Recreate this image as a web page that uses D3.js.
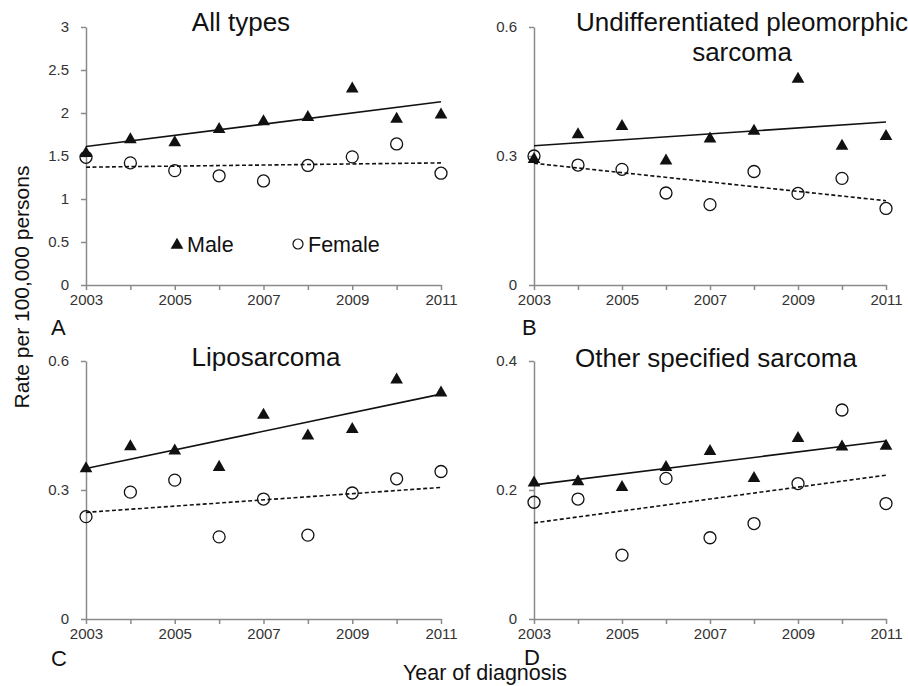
<!DOCTYPE html>
<meta charset="utf-8">
<title>Sarcoma incidence by sex</title>
<script src="https://d3js.org/d3.v7.min.js"></script>
<style>
    body { margin: 0; background: #fff; }
    svg { display: block; font-family: "Liberation Sans", Arial, sans-serif; }
    .tick text { fill: #333; font-size: 15px; }
    .domain, .tick line { stroke: #8a8a8a; stroke-width: 1.5px; }
</style>
<body>
<script>
    // Years of diagnosis and labelled ticks
    const years      = [2003, 2004, 2005, 2006, 2007, 2008, 2009, 2010, 2011];
    const yearLabels = [2003, 2005, 2007, 2009, 2011];

    // Rates per 100,000 persons
    const maleAll     = [1.53, 1.69, 1.655, 1.81, 1.90, 1.95, 2.28, 1.93, 1.98];
    const femaleAll   = [1.485, 1.42, 1.33, 1.27, 1.21, 1.39, 1.49, 1.64, 1.30];
    const maleUPS     = [0.292, 0.350, 0.369, 0.289, 0.340, 0.358, 0.479, 0.323, 0.346];
    const femaleUPS   = [0.300, 0.279, 0.269, 0.214, 0.187, 0.264, 0.213, 0.248, 0.178];
    const maleLipo    = [0.350, 0.401, 0.391, 0.353, 0.474, 0.426, 0.441, 0.556, 0.526];
    const femaleLipo  = [0.238, 0.295, 0.323, 0.191, 0.279, 0.195, 0.293, 0.326, 0.343];
    const maleOther   = [0.211, 0.213, 0.204, 0.235, 0.260, 0.218, 0.280, 0.267, 0.268];
    const femaleOther = [0.181, 0.186, 0.099, 0.218, 0.126, 0.148, 0.210, 0.324, 0.179];

    // Trend lines: value at 2003 and at 2011
    const maleAllTrend     = [1.61, 2.13];
    const femaleAllTrend   = [1.37, 1.42];
    const maleUPSTrend     = [0.324, 0.379];
    const femaleUPSTrend   = [0.283, 0.196];
    const maleLipoTrend    = [0.350, 0.523];
    const femaleLipoTrend  = [0.248, 0.306];
    const maleOtherTrend   = [0.208, 0.276];
    const femaleOtherTrend = [0.149, 0.223];

    // Y ticks for each panel
    const ticksAll   = [0, 0.5, 1, 1.5, 2, 2.5, 3];
    const ticksUPS   = [0, 0.3, 0.6];
    const ticksLipo  = [0, 0.3, 0.6];
    const ticksOther = [0, 0.2, 0.4];

    const seriesNames = ["Male", "Female"];

    // panel layout (pixel frame of each plot area)
    const panels = [
        { letter: "A", title: ["All types"], male: maleAll, female: femaleAll,
          mTrend: maleAllTrend, fTrend: femaleAllTrend, ticks: ticksAll,
          x0: 86, x1: 441, y0: 285, y1: 27, titleX: 241, titleY: 31, letterX: 51, letterY: 335, legend: true },
        { letter: "B", title: ["Undifferentiated pleomorphic", "sarcoma"], male: maleUPS, female: femaleUPS,
          mTrend: maleUPSTrend, fTrend: femaleUPSTrend, ticks: ticksUPS,
          x0: 534, x1: 886, y0: 285, y1: 27, titleX: 742, titleY: 31, letterX: 522, letterY: 335 },
        { letter: "C", title: ["Liposarcoma"], male: maleLipo, female: femaleLipo,
          mTrend: maleLipoTrend, fTrend: femaleLipoTrend, ticks: ticksLipo,
          x0: 86, x1: 441, y0: 619, y1: 361, titleX: 266, titleY: 366, letterX: 51, letterY: 666 },
        { letter: "D", title: ["Other specified sarcoma"], male: maleOther, female: femaleOther,
          mTrend: maleOtherTrend, fTrend: femaleOtherTrend, ticks: ticksOther,
          x0: 534, x1: 886, y0: 619, y1: 361, titleX: 716, titleY: 367, letterX: 524, letterY: 665 }
    ];

    const width  = 908;
    const height = 686;

    const svg = d3.select("body")
                  .append("svg")
                  .attr("width", width)
                  .attr("height", height);

    const triangle = d3.symbol().type(d3.symbolTriangle).size(70);

    panels.forEach(p => {
        const xScale = d3.scaleLinear()
                         .domain([years[0], years[years.length - 1]])
                         .range([p.x0, p.x1]);
        const yScale = d3.scaleLinear()
                         .domain([0, d3.max(p.ticks)])
                         .range([p.y0, p.y1]);

        const g = svg.append("g");

        // axes
        const xAxis = d3.axisBottom(xScale)
                        .tickValues(years)
                        .tickSize(5)
                        .tickPadding(4)
                        .tickSizeOuter(0)
                        .tickFormat(d => yearLabels.includes(d) ? d : "");
        g.append("g")
         .attr("transform", "translate(0," + p.y0 + ")")
         .call(xAxis);

        const yAxis = d3.axisLeft(yScale)
                        .tickValues(p.ticks)
                        .tickSize(5)
                        .tickPadding(12)
                        .tickSizeOuter(0)
                        .tickFormat(d => d);
        g.append("g")
         .attr("transform", "translate(" + p.x0 + ",0)")
         .call(yAxis);

        g.selectAll(".domain").attr("stroke", "#8a8a8a");

        // trend lines
        const ends = [years[0], years[years.length - 1]];
        const line = d3.line()
                       .x((d, i) => xScale(ends[i]))
                       .y(d => yScale(d));
        g.append("path")
         .attr("d", line(p.mTrend))
         .attr("fill", "none")
         .attr("stroke", "#111")
         .attr("stroke-width", 1.6);
        g.append("path")
         .attr("d", line(p.fTrend))
         .attr("fill", "none")
         .attr("stroke", "#111")
         .attr("stroke-width", 1.6)
         .attr("stroke-dasharray", "4,2.5");

        // female circles
        g.selectAll("circle.female")
         .data(p.female)
         .enter()
         .append("circle")
         .attr("class", "female")
         .attr("cx", (d, i) => xScale(years[i]))
         .attr("cy", d => yScale(d))
         .attr("r", 6)
         .attr("fill", "none")
         .attr("stroke", "#111")
         .attr("stroke-width", 1.3);

        // male triangles
        g.selectAll("path.male")
         .data(p.male)
         .enter()
         .append("path")
         .attr("class", "male")
         .attr("d", triangle)
         .attr("transform", (d, i) => "translate(" + xScale(years[i]) + "," + yScale(d) + ")")
         .attr("fill", "#111");

        // title
        const t = g.append("text")
                   .attr("text-anchor", "middle")
                   .attr("font-size", 26)
                   .attr("fill", "#111");
        p.title.forEach((s, i) => {
            t.append("tspan")
             .attr("x", p.titleX)
             .attr("y", p.titleY + i * 30)
             .text(s);
        });

        // panel letter
        g.append("text")
         .attr("x", p.letterX)
         .attr("y", p.letterY)
         .attr("font-size", 22)
         .attr("fill", "#111")
         .text(p.letter);

        // legend
        if (p.legend) {
            const lg = g.append("g");
            const lx = [177, 298];
            seriesNames.forEach((name, i) => {
                if (i === 0) {
                    lg.append("path")
                      .attr("d", triangle)
                      .attr("transform", "translate(" + lx[i] + ",245)")
                      .attr("fill", "#111");
                } else {
                    lg.append("circle")
                      .attr("cx", lx[i])
                      .attr("cy", 244)
                      .attr("r", 5)
                      .attr("fill", "none")
                      .attr("stroke", "#111")
                      .attr("stroke-width", 1.2);
                }
                lg.append("text")
                  .attr("x", lx[i] + 10)
                  .attr("y", 252)
                  .attr("font-size", 21.5)
                  .attr("fill", "#111")
                  .text(name);
            });
        }
    });

    // shared axis titles
    svg.append("text")
       .attr("transform", "translate(29,287) rotate(-90)")
       .attr("text-anchor", "middle")
       .attr("font-size", 21)
       .attr("fill", "#111")
       .text("Rate per 100,000 persons");

    svg.append("text")
       .attr("x", 485)
       .attr("y", 680)
       .attr("text-anchor", "middle")
       .attr("font-size", 21.5)
       .attr("fill", "#111")
       .text("Year of diagnosis");
</script>
</body>
